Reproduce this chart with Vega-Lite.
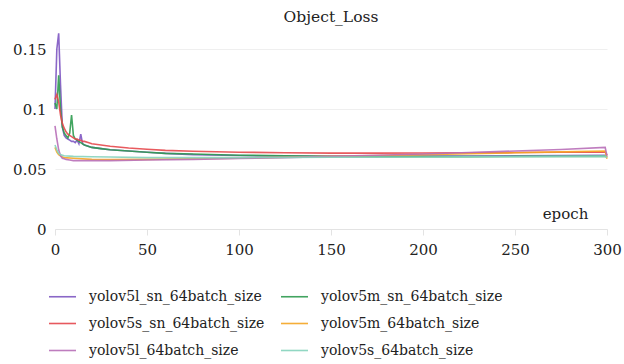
{
  "$schema": "https://vega.github.io/schema/vega-lite/v6.json",
  "width": 552,
  "height": 204,
  "autosize": {"type": "none"},
  "padding": {"left": 55, "top": 25, "right": 17, "bottom": 135},
  "background": "white",
  "config": {
    "font": "DejaVu Serif",
    "view": {"stroke": null},
    "axis": {"labelFont": "DejaVu Serif", "titleFont": "DejaVu Serif"},
    "legend": {"labelFont": "DejaVu Serif"},
    "title": {"font": "DejaVu Serif", "fontSize": 15.5, "fontWeight": "normal", "color": "#222"}
  },
  "title": {"text": "Object_Loss", "anchor": "middle", "offset": 0},
  "data": {"values": [
    {"e":0,"s":"yolov5l_sn_64batch_size","v":0.100},{"e":1,"s":"yolov5l_sn_64batch_size","v":0.150},{"e":2,"s":"yolov5l_sn_64batch_size","v":0.163},{"e":3,"s":"yolov5l_sn_64batch_size","v":0.120},{"e":4,"s":"yolov5l_sn_64batch_size","v":0.085},{"e":5,"s":"yolov5l_sn_64batch_size","v":0.078},{"e":6,"s":"yolov5l_sn_64batch_size","v":0.076},{"e":7,"s":"yolov5l_sn_64batch_size","v":0.075},{"e":8,"s":"yolov5l_sn_64batch_size","v":0.074},{"e":9,"s":"yolov5l_sn_64batch_size","v":0.073},{"e":10,"s":"yolov5l_sn_64batch_size","v":0.073},{"e":11,"s":"yolov5l_sn_64batch_size","v":0.072},{"e":12,"s":"yolov5l_sn_64batch_size","v":0.074},{"e":13,"s":"yolov5l_sn_64batch_size","v":0.071},{"e":14,"s":"yolov5l_sn_64batch_size","v":0.079},{"e":15,"s":"yolov5l_sn_64batch_size","v":0.071},{"e":16,"s":"yolov5l_sn_64batch_size","v":0.070},{"e":18,"s":"yolov5l_sn_64batch_size","v":0.069},{"e":20,"s":"yolov5l_sn_64batch_size","v":0.068},{"e":25,"s":"yolov5l_sn_64batch_size","v":0.067},{"e":30,"s":"yolov5l_sn_64batch_size","v":0.066},{"e":40,"s":"yolov5l_sn_64batch_size","v":0.065},{"e":50,"s":"yolov5l_sn_64batch_size","v":0.064},{"e":60,"s":"yolov5l_sn_64batch_size","v":0.063},{"e":75,"s":"yolov5l_sn_64batch_size","v":0.062},{"e":100,"s":"yolov5l_sn_64batch_size","v":0.0612},{"e":125,"s":"yolov5l_sn_64batch_size","v":0.0607},{"e":150,"s":"yolov5l_sn_64batch_size","v":0.0605},{"e":175,"s":"yolov5l_sn_64batch_size","v":0.0605},{"e":200,"s":"yolov5l_sn_64batch_size","v":0.0607},{"e":225,"s":"yolov5l_sn_64batch_size","v":0.0608},{"e":250,"s":"yolov5l_sn_64batch_size","v":0.061},{"e":275,"s":"yolov5l_sn_64batch_size","v":0.0612},{"e":299,"s":"yolov5l_sn_64batch_size","v":0.0615},{"e":300,"s":"yolov5l_sn_64batch_size","v":0.060},

    {"e":0,"s":"yolov5m_sn_64batch_size","v":0.105},{"e":1,"s":"yolov5m_sn_64batch_size","v":0.100},{"e":2,"s":"yolov5m_sn_64batch_size","v":0.128},{"e":3,"s":"yolov5m_sn_64batch_size","v":0.100},{"e":4,"s":"yolov5m_sn_64batch_size","v":0.085},{"e":5,"s":"yolov5m_sn_64batch_size","v":0.080},{"e":6,"s":"yolov5m_sn_64batch_size","v":0.078},{"e":7,"s":"yolov5m_sn_64batch_size","v":0.076},{"e":8,"s":"yolov5m_sn_64batch_size","v":0.080},{"e":9,"s":"yolov5m_sn_64batch_size","v":0.095},{"e":10,"s":"yolov5m_sn_64batch_size","v":0.078},{"e":11,"s":"yolov5m_sn_64batch_size","v":0.075},{"e":12,"s":"yolov5m_sn_64batch_size","v":0.074},{"e":13,"s":"yolov5m_sn_64batch_size","v":0.073},{"e":14,"s":"yolov5m_sn_64batch_size","v":0.072},{"e":15,"s":"yolov5m_sn_64batch_size","v":0.071},{"e":16,"s":"yolov5m_sn_64batch_size","v":0.070},{"e":18,"s":"yolov5m_sn_64batch_size","v":0.069},{"e":20,"s":"yolov5m_sn_64batch_size","v":0.068},{"e":25,"s":"yolov5m_sn_64batch_size","v":0.067},{"e":30,"s":"yolov5m_sn_64batch_size","v":0.066},{"e":40,"s":"yolov5m_sn_64batch_size","v":0.065},{"e":50,"s":"yolov5m_sn_64batch_size","v":0.064},{"e":60,"s":"yolov5m_sn_64batch_size","v":0.063},{"e":75,"s":"yolov5m_sn_64batch_size","v":0.0625},{"e":100,"s":"yolov5m_sn_64batch_size","v":0.0615},{"e":125,"s":"yolov5m_sn_64batch_size","v":0.061},{"e":150,"s":"yolov5m_sn_64batch_size","v":0.0605},{"e":175,"s":"yolov5m_sn_64batch_size","v":0.0603},{"e":200,"s":"yolov5m_sn_64batch_size","v":0.0603},{"e":225,"s":"yolov5m_sn_64batch_size","v":0.0603},{"e":250,"s":"yolov5m_sn_64batch_size","v":0.0605},{"e":275,"s":"yolov5m_sn_64batch_size","v":0.0605},{"e":299,"s":"yolov5m_sn_64batch_size","v":0.0607},{"e":300,"s":"yolov5m_sn_64batch_size","v":0.0600},

    {"e":0,"s":"yolov5s_sn_64batch_size","v":0.108},{"e":1,"s":"yolov5s_sn_64batch_size","v":0.112},{"e":2,"s":"yolov5s_sn_64batch_size","v":0.106},{"e":3,"s":"yolov5s_sn_64batch_size","v":0.095},{"e":4,"s":"yolov5s_sn_64batch_size","v":0.088},{"e":5,"s":"yolov5s_sn_64batch_size","v":0.084},{"e":6,"s":"yolov5s_sn_64batch_size","v":0.081},{"e":7,"s":"yolov5s_sn_64batch_size","v":0.079},{"e":8,"s":"yolov5s_sn_64batch_size","v":0.078},{"e":9,"s":"yolov5s_sn_64batch_size","v":0.077},{"e":10,"s":"yolov5s_sn_64batch_size","v":0.076},{"e":11,"s":"yolov5s_sn_64batch_size","v":0.075},{"e":12,"s":"yolov5s_sn_64batch_size","v":0.075},{"e":13,"s":"yolov5s_sn_64batch_size","v":0.074},{"e":14,"s":"yolov5s_sn_64batch_size","v":0.074},{"e":15,"s":"yolov5s_sn_64batch_size","v":0.073},{"e":16,"s":"yolov5s_sn_64batch_size","v":0.073},{"e":18,"s":"yolov5s_sn_64batch_size","v":0.072},{"e":20,"s":"yolov5s_sn_64batch_size","v":0.071},{"e":25,"s":"yolov5s_sn_64batch_size","v":0.070},{"e":30,"s":"yolov5s_sn_64batch_size","v":0.069},{"e":40,"s":"yolov5s_sn_64batch_size","v":0.0675},{"e":50,"s":"yolov5s_sn_64batch_size","v":0.0665},{"e":60,"s":"yolov5s_sn_64batch_size","v":0.0655},{"e":75,"s":"yolov5s_sn_64batch_size","v":0.0648},{"e":100,"s":"yolov5s_sn_64batch_size","v":0.064},{"e":125,"s":"yolov5s_sn_64batch_size","v":0.0635},{"e":150,"s":"yolov5s_sn_64batch_size","v":0.0632},{"e":175,"s":"yolov5s_sn_64batch_size","v":0.0632},{"e":200,"s":"yolov5s_sn_64batch_size","v":0.0633},{"e":225,"s":"yolov5s_sn_64batch_size","v":0.0635},{"e":250,"s":"yolov5s_sn_64batch_size","v":0.0637},{"e":275,"s":"yolov5s_sn_64batch_size","v":0.064},{"e":299,"s":"yolov5s_sn_64batch_size","v":0.0642},{"e":300,"s":"yolov5s_sn_64batch_size","v":0.0615},

    {"e":0,"s":"yolov5m_64batch_size","v":0.068},{"e":1,"s":"yolov5m_64batch_size","v":0.064},{"e":2,"s":"yolov5m_64batch_size","v":0.062},{"e":3,"s":"yolov5m_64batch_size","v":0.061},{"e":4,"s":"yolov5m_64batch_size","v":0.060},{"e":5,"s":"yolov5m_64batch_size","v":0.0595},{"e":10,"s":"yolov5m_64batch_size","v":0.059},{"e":20,"s":"yolov5m_64batch_size","v":0.058},{"e":30,"s":"yolov5m_64batch_size","v":0.0578},{"e":50,"s":"yolov5m_64batch_size","v":0.058},{"e":75,"s":"yolov5m_64batch_size","v":0.0585},{"e":100,"s":"yolov5m_64batch_size","v":0.059},{"e":125,"s":"yolov5m_64batch_size","v":0.0598},{"e":150,"s":"yolov5m_64batch_size","v":0.0605},{"e":175,"s":"yolov5m_64batch_size","v":0.0612},{"e":200,"s":"yolov5m_64batch_size","v":0.062},{"e":225,"s":"yolov5m_64batch_size","v":0.0627},{"e":250,"s":"yolov5m_64batch_size","v":0.0635},{"e":275,"s":"yolov5m_64batch_size","v":0.0643},{"e":299,"s":"yolov5m_64batch_size","v":0.065},{"e":300,"s":"yolov5m_64batch_size","v":0.0585},

    {"e":0,"s":"yolov5l_64batch_size","v":0.086},{"e":1,"s":"yolov5l_64batch_size","v":0.075},{"e":2,"s":"yolov5l_64batch_size","v":0.066},{"e":3,"s":"yolov5l_64batch_size","v":0.061},{"e":4,"s":"yolov5l_64batch_size","v":0.059},{"e":5,"s":"yolov5l_64batch_size","v":0.0585},{"e":6,"s":"yolov5l_64batch_size","v":0.058},{"e":8,"s":"yolov5l_64batch_size","v":0.0575},{"e":10,"s":"yolov5l_64batch_size","v":0.057},{"e":20,"s":"yolov5l_64batch_size","v":0.057},{"e":30,"s":"yolov5l_64batch_size","v":0.057},{"e":50,"s":"yolov5l_64batch_size","v":0.0575},{"e":75,"s":"yolov5l_64batch_size","v":0.058},{"e":100,"s":"yolov5l_64batch_size","v":0.0588},{"e":125,"s":"yolov5l_64batch_size","v":0.0595},{"e":150,"s":"yolov5l_64batch_size","v":0.0605},{"e":175,"s":"yolov5l_64batch_size","v":0.0615},{"e":200,"s":"yolov5l_64batch_size","v":0.0625},{"e":225,"s":"yolov5l_64batch_size","v":0.0637},{"e":250,"s":"yolov5l_64batch_size","v":0.065},{"e":275,"s":"yolov5l_64batch_size","v":0.0663},{"e":299,"s":"yolov5l_64batch_size","v":0.068},{"e":300,"s":"yolov5l_64batch_size","v":0.061},

    {"e":0,"s":"yolov5s_64batch_size","v":0.070},{"e":1,"s":"yolov5s_64batch_size","v":0.066},{"e":2,"s":"yolov5s_64batch_size","v":0.063},{"e":3,"s":"yolov5s_64batch_size","v":0.062},{"e":4,"s":"yolov5s_64batch_size","v":0.0615},{"e":5,"s":"yolov5s_64batch_size","v":0.061},{"e":10,"s":"yolov5s_64batch_size","v":0.0605},{"e":20,"s":"yolov5s_64batch_size","v":0.0602},{"e":30,"s":"yolov5s_64batch_size","v":0.060},{"e":50,"s":"yolov5s_64batch_size","v":0.0595},{"e":75,"s":"yolov5s_64batch_size","v":0.0595},{"e":100,"s":"yolov5s_64batch_size","v":0.0595},{"e":125,"s":"yolov5s_64batch_size","v":0.0597},{"e":150,"s":"yolov5s_64batch_size","v":0.0598},{"e":175,"s":"yolov5s_64batch_size","v":0.060},{"e":200,"s":"yolov5s_64batch_size","v":0.060},{"e":225,"s":"yolov5s_64batch_size","v":0.0602},{"e":250,"s":"yolov5s_64batch_size","v":0.0603},{"e":275,"s":"yolov5s_64batch_size","v":0.0605},{"e":299,"s":"yolov5s_64batch_size","v":0.0607},{"e":300,"s":"yolov5s_64batch_size","v":0.0595}
  ]},
  "mark": {"type": "line", "strokeWidth": 1.6, "opacity": 0.9},
  "encoding": {
    "x": {
      "field": "e", "type": "quantitative",
      "scale": {"domain": [0, 300], "nice": false},
      "axis": {
        "values": [0, 50, 100, 150, 200, 250, 300],
        "grid": false,
        "labelFlush": false,
        "domainColor": "#e3e3e3",
        "tickColor": "#e3e3e3",
        "tickSize": 6,
        "labelFontSize": 15,
        "labelColor": "#222",
        "labelPadding": 7,
        "title": "epoch",
        "titleFontSize": 15,
        "titleFontWeight": "normal",
        "titleColor": "#222",
        "titleX": 510,
        "titleY": -11,
        "titleAlign": "center",
        "titleBaseline": "alphabetic"
      }
    },
    "y": {
      "field": "v", "type": "quantitative",
      "scale": {"domain": [0, 0.17], "nice": false},
      "axis": {
        "values": [0, 0.05, 0.1, 0.15],
        "format": "~g",
        "labelFlush": false,
        "domain": false,
        "ticks": false,
        "gridColor": "#efefef",
        "labelFontSize": 15,
        "labelColor": "#222",
        "labelPadding": 9,
        "title": null
      }
    },
    "color": {
      "field": "s", "type": "nominal",
      "scale": {
        "domain": ["yolov5l_sn_64batch_size", "yolov5s_sn_64batch_size", "yolov5l_64batch_size", "yolov5m_sn_64batch_size", "yolov5m_64batch_size", "yolov5s_64batch_size"],
        "range": ["#7e57c2", "#e5484d", "#b86fb8", "#2e9b4f", "#f5a623", "#86d3bd"]
      },
      "legend": {
        "title": null,
        "orient": "none",
        "legendX": -7,
        "legendY": 257,
        "columns": 2,
        "columnPadding": 12,
        "rowPadding": 5,
        "symbolType": "stroke",
        "symbolSize": 729,
        "symbolStrokeWidth": 1.6,
        "labelFontSize": 14,
        "labelColor": "#222",
        "labelOffset": 12,
        "labelLimit": 300
      }
    }
  }
}
